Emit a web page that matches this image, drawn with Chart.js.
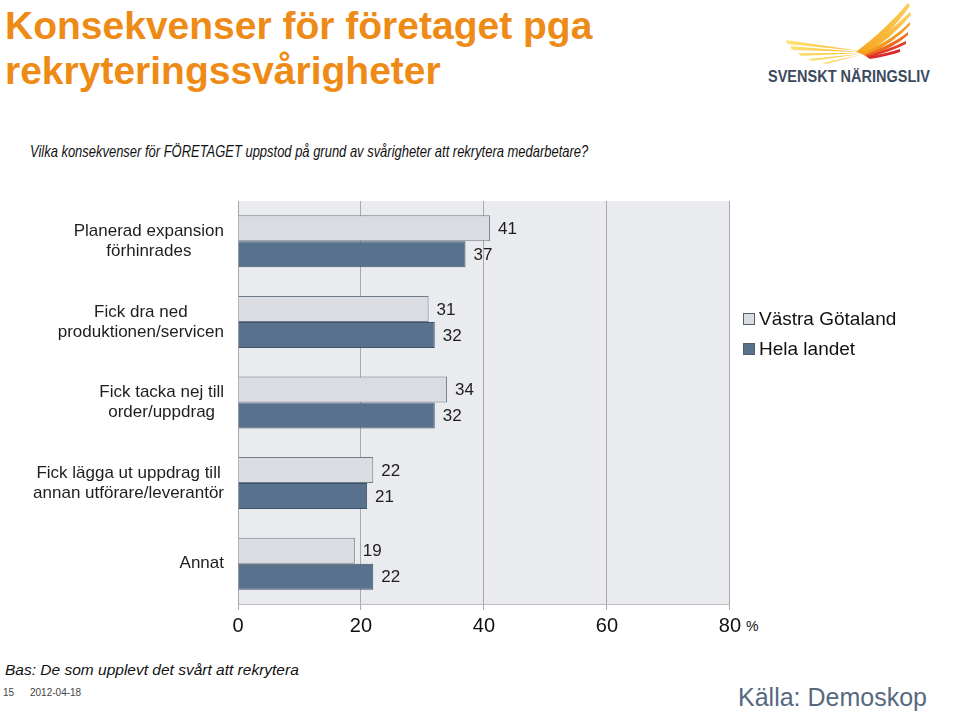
<!DOCTYPE html>
<html lang="sv">
<head>
<meta charset="utf-8">
<title>Konsekvenser för företaget pga rekryteringssvårigheter</title>
<script src="https://cdn.jsdelivr.net/npm/chart.js@4.4.1/dist/chart.umd.min.js"></script>
<style>
    html, body {
        margin: 0;
        padding: 0;
        background: #ffffff;
        font-family: "Liberation Sans", Arial, sans-serif;
    }
    #page {
        position: relative;
        width: 960px;
        height: 714px;
        overflow: hidden;
    }
    .title {
        position: absolute;
        left: 5px;
        top: 3px;
        margin: 0;
        font-size: 39px;
        line-height: 45px;
        font-weight: bold;
        color: #ee8b17;
    }
    .question {
        position: absolute;
        left: 30px;
        top: 142px;
        margin: 0;
        font-size: 16.5px;
        font-style: italic;
        color: #111;
        white-space: nowrap;
        transform: scaleX(0.785);
        transform-origin: left center;
    }
    #logo {
        position: absolute;
        left: 760px;
        top: 0;
    }
    .chart-wrap {
        position: absolute;
        left: 0;
        top: 190px;
        width: 745px;
        height: 450px;
    }
    .legend {
        position: absolute;
        left: 743px;
        top: 304px;
        font-size: 19px;
        color: #111;
    }
    .legend-item {
        display: flex;
        align-items: center;
        height: 30px;
    }
    .legend-box {
        width: 10px;
        height: 10px;
        margin-right: 4px;
        border: 1px solid #555f6a;
    }
    .pct {
        position: absolute;
        left: 746px;
        top: 618px;
        font-size: 14px;
        color: #111;
    }
    .bas {
        position: absolute;
        left: 5px;
        top: 661px;
        margin: 0;
        font-size: 15.5px;
        font-style: italic;
        color: #111;
    }
    .slide-no, .slide-date {
        position: absolute;
        top: 687px;
        font-size: 10px;
        color: #444;
    }
    .slide-no { left: 3px; }
    .slide-date { left: 30px; }
    .source {
        position: absolute;
        left: 738px;
        top: 683px;
        margin: 0;
        font-size: 25px;
        color: #56697e;
    }
</style>
</head>
<body>
<div id="page">
    <h1 class="title">Konsekvenser för företaget pga<br>rekryteringssvårigheter</h1>

    <svg id="logo" width="200" height="90" viewBox="0 0 200 90">
        <defs>
            <linearGradient id="wingLeft" x1="0" y1="0" x2="1" y2="0">
                <stop offset="0" stop-color="#fde37a"/>
                <stop offset="1" stop-color="#f7b51c"/>
            </linearGradient>
            <linearGradient id="wingRight" x1="0" y1="1" x2="1" y2="0">
                <stop offset="0" stop-color="#f6a21b"/>
                <stop offset="1" stop-color="#fbd160"/>
            </linearGradient>
        </defs>
        <!-- left feathers -->
        <path d="M100 51 L26 40 L27 44 Z" fill="url(#wingLeft)"/>
        <path d="M100 52 L30 46 L32 50 Z" fill="url(#wingLeft)"/>
        <path d="M100 53 L38 53 L41 56 Z" fill="url(#wingLeft)"/>
        <path d="M100 54 L48 59 L52 61 Z" fill="url(#wingLeft)"/>
        <path d="M100 55 L62 63 L66 64 Z" fill="url(#wingLeft)"/>
        <!-- right feathers -->
        <path d="M96 52 Q125 30 148 3 L150 6 Q130 35 102 54 Z" fill="url(#wingRight)"/>
        <path d="M100 53 Q130 32 150 12 L151 15 Q132 38 104 55 Z" fill="url(#wingRight)"/>
        <path d="M102 54 Q135 38 150 22 L150 25 Q135 42 106 56 Z" fill="#f39a1e"/>
        <path d="M104 55 Q135 43 148 32 L148 35 Q135 47 108 57 Z" fill="#ee6a1f"/>
        <path d="M106 56 Q132 48 146 41 L146 44 Q132 51 108 58 Z" fill="#e33b24"/>
        <path d="M108 57 Q128 53 140 49 L140 52 Q128 56 110 59 Z" fill="#d8262a"/>
        <text x="8" y="82" font-family="'Liberation Sans', Arial, sans-serif" font-size="16" font-weight="bold"
              fill="#3b4a5c" textLength="162" lengthAdjust="spacingAndGlyphs">SVENSKT NÄRINGSLIV</text>
    </svg>

    <p class="question">Vilka konsekvenser för FÖRETAGET uppstod på grund av svårigheter att rekrytera medarbetare?</p>

    <div class="chart-wrap"><canvas id="chart"></canvas></div>

    <div class="legend">
        <div class="legend-item"><span class="legend-box" style="background:#d9dce1"></span>Västra Götaland</div>
        <div class="legend-item"><span class="legend-box" style="background:#58728d"></span>Hela landet</div>
    </div>
    <span class="pct">%</span>

    <p class="bas">Bas: De som upplevt det svårt att rekrytera</p>
    <span class="slide-no">15</span>
    <span class="slide-date">2012-04-18</span>
    <p class="source">Källa: Demoskop</p>
</div>

<script>
// Categories, one array of lines per label
const categories = [
    ['Planerad expansion', 'förhinrades'],
    ['Fick dra ned', 'produktionen/servicen'],
    ['Fick tacka nej till', 'order/uppdrag'],
    ['Fick lägga ut uppdrag till', 'annan utförare/leverantör'],
    ['Annat']
];
const seriesNames = ['Västra Götaland', 'Hela landet'];
const vastraGotaland = [41, 31, 34, 22, 19];
const helaLandet = [37, 32, 32, 21, 22];
const xTickValues = [0, 20, 40, 60, 80];

// Grey plot background
const plotBackground = {
    id: 'plotBackground',
    beforeDraw(chart) {
        const { ctx, chartArea } = chart;
        ctx.save();
        ctx.fillStyle = '#e9ebee';
        ctx.fillRect(chartArea.left, chartArea.top, chartArea.right - chartArea.left, chartArea.bottom - chartArea.top);
        ctx.restore();
    }
};

// Category labels: each block centred on itself, block right-aligned next to the axis
const categoryLabels = {
    id: 'categoryLabels',
    afterDraw(chart) {
        const { ctx } = chart;
        const yScale = chart.scales.y;
        const lineHeight = 20;
        const rightEdge = yScale.right - 14;
        ctx.save();
        ctx.font = '17px "Liberation Sans", Arial, sans-serif';
        ctx.fillStyle = '#1e1e1e';
        ctx.textAlign = 'center';
        ctx.textBaseline = 'middle';
        categories.forEach((lines, i) => {
            const y = yScale.getPixelForValue(i);
            const maxWidth = Math.max(...lines.map(line => ctx.measureText(line).width));
            const cx = rightEdge - maxWidth / 2;
            const startY = y - (lines.length - 1) * lineHeight / 2;
            lines.forEach((line, j) => ctx.fillText(line, cx, startY + j * lineHeight));
        });
        ctx.restore();
    }
};

// Value labels to the right of each bar
const valueLabels = {
    id: 'valueLabels',
    afterDatasetsDraw(chart) {
        const { ctx } = chart;
        ctx.save();
        ctx.font = '17px "Liberation Sans", Arial, sans-serif';
        ctx.fillStyle = '#1e1e1e';
        ctx.textAlign = 'left';
        ctx.textBaseline = 'middle';
        chart.data.datasets.forEach((dataset, d) => {
            chart.getDatasetMeta(d).data.forEach((bar, i) => {
                ctx.fillText(dataset.data[i], bar.x + 8, bar.y + 1);
            });
        });
        ctx.restore();
    }
};

new Chart(document.getElementById('chart'), {
    type: 'bar',
    data: {
        labels: categories,
        datasets: [
            {
                label: seriesNames[0],
                data: vastraGotaland,
                backgroundColor: '#d9dce1',
                borderColor: '#6f7c89',
                borderWidth: 1,
                borderSkipped: 'left'
            },
            {
                label: seriesNames[1],
                data: helaLandet,
                backgroundColor: '#58728d',
                borderColor: '#3f5366',
                borderWidth: 1,
                borderSkipped: 'left'
            }
        ]
    },
    options: {
        indexAxis: 'y',
        responsive: true,
        maintainAspectRatio: false,
        animation: false,
        layout: {
            padding: { top: 11, right: 14, bottom: 0, left: 0 }
        },
        datasets: {
            bar: {
                categoryPercentage: 0.645,
                barPercentage: 1
            }
        },
        plugins: {
            legend: { display: false },
            tooltip: { enabled: false }
        },
        scales: {
            x: {
                min: 0,
                max: 80,
                afterBuildTicks: scale => {
                    scale.ticks = xTickValues.map(v => ({ value: v }));
                },
                afterFit: scale => {
                    scale.height = 36;
                },
                ticks: {
                    padding: 4,
                    color: '#111',
                    font: { size: 20, family: '"Liberation Sans", Arial, sans-serif' }
                },
                grid: {
                    color: '#a9a9a9',
                    tickLength: 6
                },
                border: { color: '#b9bcc0' }
            },
            y: {
                afterFit: scale => {
                    scale.width = 238;
                },
                ticks: { display: false },
                grid: { display: false },
                border: { color: '#a9a9a9' }
            }
        }
    },
    plugins: [plotBackground, categoryLabels, valueLabels]
});
</script>
</body>
</html>
